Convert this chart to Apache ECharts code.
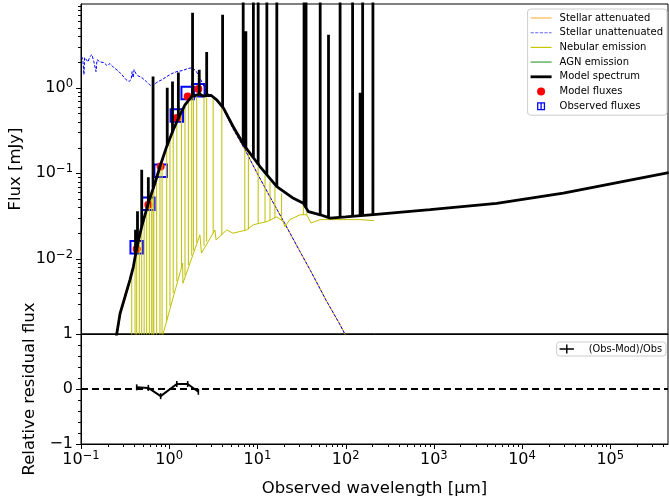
<!DOCTYPE html>
<html><head><meta charset="utf-8">
<script src="https://cdn.jsdelivr.net/npm/echarts@6/dist/echarts.min.js"></script>
<style>html,body{margin:0;padding:0;background:#fff}#c{width:669px;height:503px}</style>
</head><body><div id="c"></div>
<script>
// ---------- data (wavelength in micron, flux in mJy) ----------
const modelWl   = [0.25,0.277,0.315,0.359,0.392,0.428,0.488,0.58,0.69,0.786,0.937,1.11,1.27,1.51,1.8,2.23,2.4,2.66,3.0,3.46,4.11,5.3,7.2,10.7,16.6,25.6,33.2,37.8,45,51.5,67,100,206,906,5160,29400,460000];
const modelFlux = [0.0012,0.0023,0.0036,0.0057,0.0081,0.0133,0.024,0.045,0.077,0.12,0.206,0.32,0.44,0.63,0.79,0.84,0.80,0.81,0.81,0.72,0.58,0.353,0.206,0.12,0.070,0.051,0.0446,0.0357,0.034,0.0328,0.030,0.031,0.033,0.0376,0.0446,0.0586,0.102];

const modelLineWl   = [0.415,0.437,0.488,0.58,0.656,0.95,1.09,1.27,1.84,2.19,2.66,4.03,6.9,7.4,9.0,10.2,12.8,16.6,33.8,35.6,51.5,64,86.6,120,146,156,204];
const modelLineBase = [0.011,0.014,0.024,0.045,0.068,0.21,0.30,0.44,0.80,0.84,0.81,0.59,0.22,0.20,0.155,0.125,0.097,0.070,0.044,0.040,0.033,0.030,0.031,0.031,0.032,0.032,0.033];
const modelLinePeak = [0.022,0.036,0.11,0.09,1.35,1.0,1.18,1.5,7.5,1.62,2.6,7.1,40,4.55,40,40,40,40,40,40,40,4.16,40,40,0.87,40,40];

const unattWl   = [0.1018,0.105,0.108,0.11,0.12,0.126,0.133,0.14,0.148,0.152,0.164,0.182,0.197,0.213,0.236,0.262,0.29,0.324,0.35,0.37,0.38,0.39,0.40,0.42,0.44,0.49,0.55,0.60,0.65,0.69,0.75,0.83,0.94,1.07,1.22,1.40,1.63,1.81,2.0,2.17,2.36,2.56,2.8,3.2,3.46,4.11,5.3,7.2,10,15,20,30,40,60,84,110];
const unattFlux = [2.3,2.12,1.42,2.24,2.0,2.3,2.43,2.0,1.54,2.12,2.0,1.96,1.81,1.91,1.71,1.58,1.42,1.24,1.18,1.24,1.54,1.31,1.62,1.46,1.38,1.31,1.18,1.08,1.03,1.11,1.18,1.24,1.35,1.46,1.54,1.58,1.67,1.71,1.58,1.38,1.15,0.95,0.83,0.76,0.70,0.56,0.33,0.19,0.099,0.046,0.027,0.0125,0.0073,0.0033,0.0018,0.00107];

const attWl   = [0.25,0.28,0.32,0.36,0.39,0.43,0.49,0.58,0.69,0.79,0.94,1.11,1.27,1.51,1.8,2.23,2.66,3.0,3.46,4.11,5.3,7.2,10,15,20,30,40,60,84,110];
const attFlux = [0.0011,0.0022,0.0035,0.0055,0.0078,0.0128,0.023,0.043,0.074,0.115,0.20,0.31,0.43,0.62,0.77,0.82,0.79,0.79,0.70,0.56,0.33,0.19,0.099,0.046,0.027,0.0125,0.0073,0.0033,0.0018,0.00107];

const nebWl   = [0.80,0.857,1.42,1.43,2.23,2.32,3.3,3.4,4.48,5.3,7.5,9.0,12.8,16.6,19.6,20.5,23.3,30.5,36.3,40.5,51.5,67,146,210];
const nebFlux = [0.001,0.00136,0.0089,0.0052,0.0191,0.0117,0.0218,0.0167,0.0218,0.020,0.0218,0.0251,0.0273,0.031,0.0273,0.0239,0.0288,0.0328,0.0328,0.0263,0.0288,0.0288,0.0288,0.028];

const nebLineWl   = [0.376,0.41,0.428,0.458,0.488,0.52,0.556,0.595,0.633,0.656,0.67,0.72,0.786,0.83,0.937,1.02,1.11,1.22,1.38,1.51,1.65,1.80,1.88,2.05,2.48,2.66,3.15,3.95,7.2,7.9,10.2,12.2,13.9,15.8,18.8,33.2,36.3];
const nebLineBase = [0.0001,0.0001,0.0001,0.0001,0.0001,0.0001,0.0001,0.0001,0.0001,0.0001,0.0001,0.0001,0.0001,0.0012,0.0019,0.0028,0.004,0.0055,0.008,0.0064,0.0085,0.011,0.0125,0.0155,0.0142,0.016,0.020,0.019,0.0215,0.022,0.026,0.027,0.028,0.030,0.028,0.0328,0.0328];
const nebLinePeak = [0.0065,0.010,0.0125,0.017,0.022,0.030,0.038,0.046,0.058,0.065,0.068,0.085,0.11,0.13,0.19,0.24,0.30,0.39,0.50,0.60,0.68,0.75,0.77,0.80,0.78,0.77,0.74,0.58,0.20,0.17,0.12,0.095,0.08,0.07,0.058,0.043,0.038];

const obsWl    = [0.428,0.58,0.80,1.22,1.62,2.14];
const obsFlux  = [0.0137,0.044,0.107,0.474,0.867,0.93];
const modFlux  = [0.0131,0.043,0.12,0.442,0.79,0.965];
const residual = [0.03,0.02,-0.13,0.09,0.09,-0.05];

// axis ranges and tick values
const xMin = 0.1, xMax = 4.52e5, yMin = 0.00133, yMax = 9.48, rMin = -1, rMax = 1;
const xMajor = [0.1, 1, 10, 100, 1e3, 1e4, 1e5];
const yMajor = [0.01, 0.1, 1];
const rMajor = [-1, 0, 1];
const rMinor = [-0.8, -0.6, -0.4, -0.2, 0.2, 0.4, 0.6, 0.8];

// ---------- helpers ----------
const FONT = 'DejaVu Sans';
const L = Math.log10;
const pairs = (w, f) => w.map((x, i) => [x, f[i]]);
const spikes = (w, b, p) => {
  const out = [];
  w.forEach((x, i) => { out.push([x, b[i]], [x, p[i]], [x, '-']); });
  return out;
};
const logMinor = (lo, hi) => {
  const v = [];
  for (let n = Math.floor(L(lo)); n <= Math.ceil(L(hi)); n++)
    for (let k = 2; k <= 9; k++) { const t = k * Math.pow(10, n); if (t >= lo && t <= hi) v.push(t); }
  return v;
};
const sup = v => { const e = Math.round(L(v)); return '{b|10}{s|' + (e < 0 ? '\u2212' + (-e) : e) + '}'; };
const rich = { b: { fontSize: 16, fontFamily: FONT, color: '#000', lineHeight: 20 },
               s: { fontSize: 11.5, fontFamily: FONT, color: '#000', verticalAlign: 'top', lineHeight: 13 } };
const common = { splitLine: { show: false }, minorSplitLine: { show: false },
                 axisTick: { show: false }, minorTick: { show: false } };
const axLine = { show: true, lineStyle: { color: '#000', width: 1 } };

const lineIcon = h => 'path://M0,0H21V' + h + 'H0Z';
const dashIcon = 'path://M0,0h3.2v1.1h-3.2z M4.6,0h3.2v1.1h-3.2z M9.2,0h3.2v1.1h-3.2z M13.8,0h3.2v1.1h-3.2z M18.4,0h2.6v1.1h-2.6z';

// grid geometry
const G = { left: 81, right: 1, top1: 4, h1: 330, top2: 334, h2: 110 };
const W = 669 - G.left - G.right;

const labels = [
  { id: 'ylab1', type: 'text', x: 16, y: 169, rotation: Math.PI / 2, silent: true,
    style: { text: 'Flux [mJy]', font: '16.5px "DejaVu Sans"', fill: '#000', align: 'center', verticalAlign: 'middle' } },
  { id: 'ylab2', type: 'text', x: 30, y: 389, rotation: Math.PI / 2, silent: true,
    style: { text: 'Relative residual flux', font: '16.5px "DejaVu Sans"', fill: '#000', align: 'center', verticalAlign: 'middle' } }
];

// tick builders (use the chart's own axis conversion when available)
let chart = null;
const conv = (finder, v, dim, fallback) => {
  let p = NaN;
  if (chart) {
    try { p = chart.convertToPixel(finder, v); } catch (e) { p = NaN; }
    if (Array.isArray(p)) p = p[dim];
  }
  if (typeof p !== 'number' || !isFinite(p)) p = fallback(v);
  return p;
};
const xFb = v => G.left + (L(v) - L(xMin)) / (L(xMax) - L(xMin)) * W;
const yFb = v => G.top1 + G.h1 - (L(v) - L(yMin)) / (L(yMax) - L(yMin)) * G.h1;
const rFb = v => G.top2 + G.h2 - (v - rMin) / (rMax - rMin) * G.h2;
const buildTicks = () => {
  const els = [];
  let n = 0;
  const seg = (x1, y1, x2, y2) => els.push({ id: 'tk' + (n++), type: 'line', silent: true, z: 50,
    shape: { x1: x1, y1: y1, x2: x2, y2: y2 }, style: { stroke: '#000', lineWidth: 1 } });
  const bottom = G.top2 + G.h2;
  const xt = (vals, len) => vals.forEach(v => { const x = Math.round(conv({ xAxisIndex: 1 }, v, 0, xFb)) + 0.5; seg(x, bottom, x, bottom + len); });
  const yt = (idx, fb, vals, len) => vals.forEach(v => { const y = Math.round(conv({ yAxisIndex: idx }, v, 1, fb)) + 0.5; seg(G.left, y, G.left - len, y); });
  xt(xMajor, 5); xt(logMinor(xMin, xMax), 3);
  yt(0, yFb, yMajor, 5); yt(0, yFb, logMinor(yMin, yMax), 3);
  yt(1, rFb, rMajor, 5); yt(1, rFb, rMinor, 3);
  return els;
};

const option = {
  animation: false,
  textStyle: { fontFamily: FONT },
  grid: [
    { left: G.left, right: G.right, top: G.top1, height: G.h1, show: true, borderColor: '#000', borderWidth: 1, backgroundColor: 'transparent' },
    { left: G.left, right: G.right, top: G.top2, height: G.h2, show: true, borderColor: '#000', borderWidth: 1, backgroundColor: 'transparent' }
  ],
  xAxis: [
    Object.assign({ gridIndex: 0, type: 'log', logBase: 10, min: xMin, max: xMax, axisLine: axLine, axisLabel: { show: false } }, common),
    Object.assign({ gridIndex: 1, type: 'log', logBase: 10, min: xMin, max: xMax,
      axisLine: { show: true, onZero: true, onZeroAxisIndex: 2, lineStyle: { color: '#000', width: 1 } },
      axisLabel: { formatter: sup, rich: rich, margin: 6, showMinLabel: true, showMaxLabel: false },
      name: 'Observed wavelength [\u03bcm]', nameLocation: 'middle', nameGap: 36,
      nameTextStyle: { fontSize: 16.5, fontFamily: FONT, color: '#000' } }, common)
  ],
  yAxis: [
    Object.assign({ gridIndex: 0, type: 'log', logBase: 10, min: yMin, max: yMax, axisLine: axLine,
      axisLabel: { formatter: sup, rich: rich, margin: 8, showMinLabel: false, showMaxLabel: false } }, common),
    Object.assign({ gridIndex: 1, type: 'value', min: rMin, max: rMax, interval: 1, axisLine: axLine,
      axisLabel: { margin: 8, fontSize: 16, color: '#000', fontFamily: FONT,
        formatter: v => (v < 0 ? '\u2212' + (-v) : String(v)) } }, common),
    { gridIndex: 1, type: 'value', min: 1, max: 2, show: false, position: 'right' }
  ],
  legend: [
    { orient: 'vertical', right: 2, top: 9, itemWidth: 21, itemHeight: 8, itemGap: 2.7, selectedMode: false,
      padding: [3, 4, 3, 3], backgroundColor: 'rgba(255,255,255,0.8)', borderColor: '#cccccc', borderWidth: 1, borderRadius: 3,
      textStyle: { fontSize: 10, fontFamily: FONT, color: '#000', lineHeight: 12, padding: [0, 0, 0, 3] },
      data: [
        { name: 'Stellar attenuated', icon: lineIcon(1.2), itemStyle: { color: '#ffb84d' } },
        { name: 'Stellar unattenuated', icon: dashIcon, itemStyle: { color: '#6666ff' } },
        { name: 'Nebular emission', icon: lineIcon(1.2), itemStyle: { color: '#c8c800' } },
        { name: 'AGN emission', icon: lineIcon(1.8), itemStyle: { color: '#7fbf7f' } },
        { name: 'Model spectrum', icon: lineIcon(2.8), itemStyle: { color: '#000' } },
        { name: 'Model fluxes', icon: 'circle', itemStyle: { color: '#ff0000' } },
        { name: 'Observed fluxes', icon: 'path://M0,0H10V10H0Z M1.6,1.6V8.4H8.4V1.6Z M4.2,0H5.8V10H4.2Z', itemStyle: { color: '#0000ff', borderWidth: 0 } }] },
    { orient: 'vertical', right: 3, top: 342, itemWidth: 16, itemHeight: 9, selectedMode: false,
      padding: [2, 4, 2, 3], backgroundColor: 'rgba(255,255,255,0.8)', borderColor: '#cccccc', borderWidth: 1, borderRadius: 3,
      textStyle: { fontSize: 9.8, fontFamily: FONT, color: '#000', padding: [0, 0, 0, 9] },
      data: [{ name: '(Obs-Mod)/Obs', icon: 'path://M0,4.2H16V5.8H0Z M7.2,0H8.8V10H7.2Z', itemStyle: { color: '#000' } }] }
  ],
  graphic: labels.concat(buildTicks()),
  series: [
    { name: 'Stellar attenuated', type: 'line', xAxisIndex: 0, yAxisIndex: 0, symbol: 'none', silent: true,
      data: pairs(attWl, attFlux), lineStyle: { color: '#ffa500', width: 1 }, itemStyle: { color: '#ffa500' } },
    { name: 'Stellar unattenuated', type: 'line', xAxisIndex: 0, yAxisIndex: 0, symbol: 'none', silent: true,
      data: pairs(unattWl, unattFlux), lineStyle: { color: '#0000ff', width: 1, type: [3, 1.6] }, itemStyle: { color: '#0000ff' } },
    { name: 'Nebular emission', type: 'line', xAxisIndex: 0, yAxisIndex: 0, symbol: 'none', silent: true,
      data: pairs(nebWl, nebFlux), lineStyle: { color: '#bfbf00', width: 1 }, itemStyle: { color: '#bfbf00' } },
    { name: 'nebLines', type: 'line', xAxisIndex: 0, yAxisIndex: 0, symbol: 'none', silent: true, connectNulls: false,
      data: spikes(nebLineWl, nebLineBase, nebLinePeak), lineStyle: { color: '#bfbf00', width: 1 } },
    { name: 'AGN emission', type: 'line', xAxisIndex: 0, yAxisIndex: 0, symbol: 'none', silent: true,
      data: [], lineStyle: { color: '#7fbf7f', width: 1.5 }, itemStyle: { color: '#7fbf7f' } },
    { name: 'Model spectrum', type: 'line', xAxisIndex: 0, yAxisIndex: 0, symbol: 'none', silent: true,
      data: pairs(modelWl, modelFlux), lineStyle: { color: '#000', width: 2.8 }, itemStyle: { color: '#000' } },
    { name: 'modelLines', type: 'line', xAxisIndex: 0, yAxisIndex: 0, symbol: 'none', silent: true, connectNulls: false,
      data: spikes(modelLineWl, modelLineBase, modelLinePeak), lineStyle: { color: '#000', width: 2.8 } },
    { name: 'Observed fluxes', type: 'scatter', xAxisIndex: 0, yAxisIndex: 0, symbol: 'rect', symbolSize: 12.5, silent: true,
      data: pairs(obsWl, obsFlux), itemStyle: { color: 'rgba(0,0,0,0)', borderColor: '#0000ff', borderWidth: 2, opacity: 1 } },
    { name: 'Model fluxes', type: 'scatter', xAxisIndex: 0, yAxisIndex: 0, symbol: 'circle', symbolSize: 8, silent: true,
      data: pairs(obsWl, modFlux), itemStyle: { color: '#ff0000', opacity: 1 } },
    { name: '(Obs-Mod)/Obs', type: 'line', xAxisIndex: 1, yAxisIndex: 1, silent: true,
      symbol: 'rect', symbolSize: [1.6, 6], showAllSymbol: true,
      data: obsWl.map((w, i) => [w, residual[i]]),
      lineStyle: { color: '#000', width: 2 }, itemStyle: { color: '#000' },
      markLine: { silent: true, symbol: 'none', label: { show: false },
        lineStyle: { color: '#000', width: 2, type: [7, 4] }, data: [{ yAxis: 0 }] } }
  ]
};

const inst = echarts.init(document.getElementById('c'), null, { renderer: 'canvas' });
inst.setOption(option);
// refine tick positions with the chart's own axis conversion
chart = inst;
try { inst.setOption({ graphic: labels.concat(buildTicks()) }); } catch (e) { /* keep first ticks */ }
</script></body></html>
